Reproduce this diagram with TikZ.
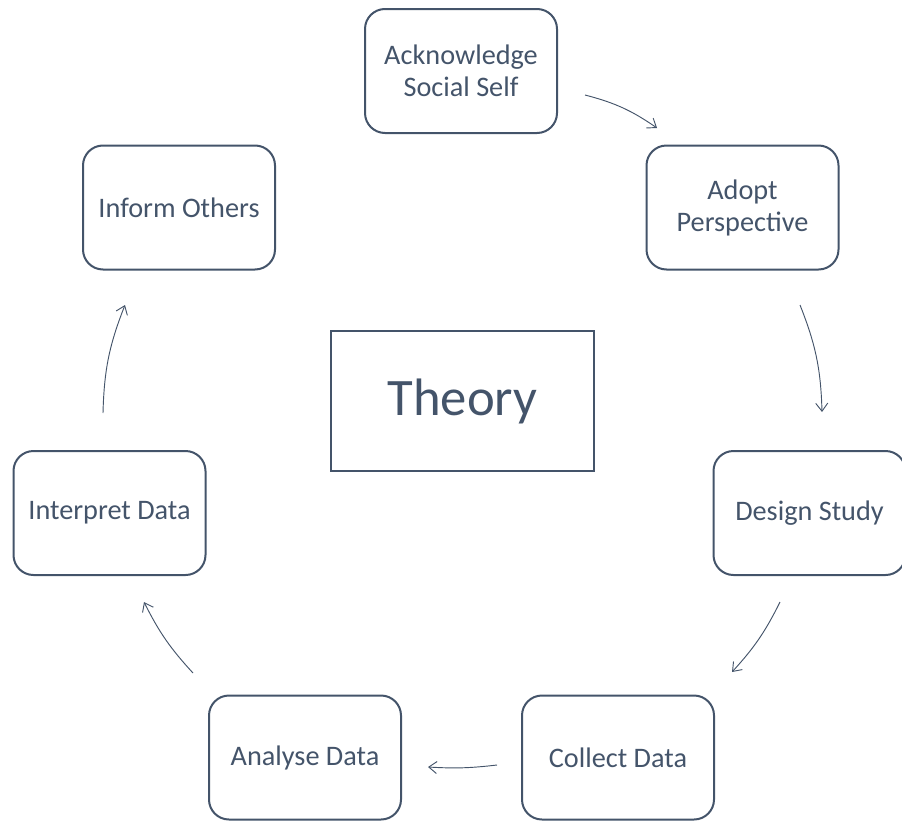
\documentclass[tikz,border=0pt]{standalone}
\usepackage{fontspec}
\setmainfont{Carlito}
\usetikzlibrary{arrows.meta}
\definecolor{slate}{HTML}{44546A}
\begin{document}
\begin{tikzpicture}[x=0.75pt,y=-0.75pt,
  stage/.style={draw=slate,line width=1.5pt,rounded corners=15pt,minimum width=144pt,minimum height=93pt,align=center,text=slate,font=\fontsize{21.2}{24}\selectfont,inner sep=0pt},
  theorybox/.style={draw=slate,line width=1.5pt,minimum width=197pt,minimum height=105pt,text=slate,font=\fontsize{39.5}{44}\selectfont,inner sep=0pt},
  flow/.style={draw=slate,line width=0.7pt,-{Straight Barb[length=6pt,width=9pt,line width=0.7pt]}}]
\useasboundingbox (0,0) rectangle (902,821);
\node[stage] (ack) at (461,71) {Acknowledge\\Social Self};
\node[stage] (adopt) at (742.5,207.5) {Adopt\\Perspective};
\node[stage] (design) at (809.5,513) {Design Study};
\node[stage] (collect) at (618,757.5) {Collect Data};
\node[stage] (analyse) at (305,757.5) {Analyse Data};
\node[stage] (interp) at (109.5,513) {Interpret Data};
\node[stage] (inform) at (179,207.5) {Inform Others};
\node[theorybox] (theory) at (462.5,401) {Theory};
\coordinate (a1s) at (585,95);   \coordinate (a1e) at (657,128);
\coordinate (a2s) at (800,305);  \coordinate (a2e) at (822,412);
\coordinate (a3s) at (780,602);  \coordinate (a3e) at (732,672);
\coordinate (a4s) at (497,765);  \coordinate (a4e) at (428,767);
\coordinate (a5s) at (193,673);  \coordinate (a5e) at (144,602);
\coordinate (a6s) at (103,413);  \coordinate (a6e) at (125,305);
\draw[flow] (a1s) to[bend left=10] (a1e);
\draw[flow] (a2s) to[bend left=10] (a2e);
\draw[flow] (a3s) to[bend left=8] (a3e);
\draw[flow] (a4s) to[bend left=5] (a4e);
\draw[flow] (a5s) to[bend left=8] (a5e);
\draw[flow] (a6s) to[bend left=10] (a6e);
\end{tikzpicture}
\end{document}
